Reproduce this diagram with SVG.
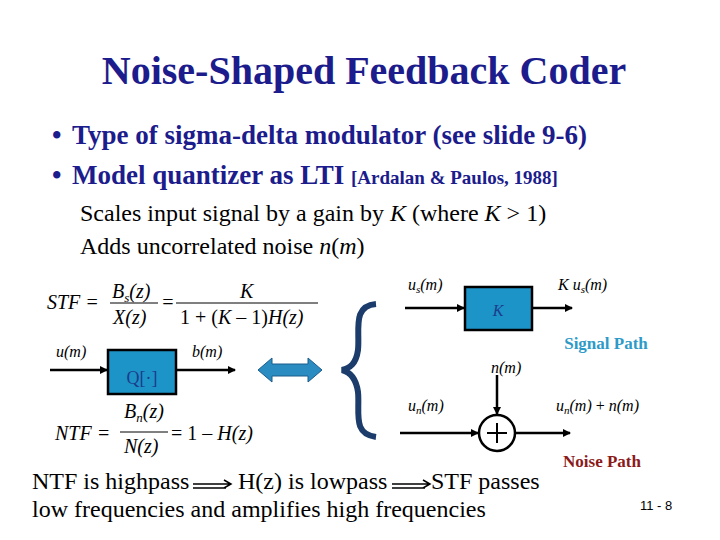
<svg xmlns="http://www.w3.org/2000/svg" width="720" height="540" viewBox="0 0 720 540">
<style>
text{font-family:"Liberation Serif",serif;fill:#000}
.t{font-size:40px;font-weight:bold;fill:#1c1c8c}
.b{font-size:27px;font-weight:bold;fill:#1c1c8c}
.s{font-size:24px}
.m{font-size:16px;font-style:italic}
.f{font-size:20px;font-style:italic}
.box{fill:#1d94c8;stroke:#000;stroke-width:2.5}
.ln{stroke:#000;stroke-width:2.5;fill:none}
</style>
<defs><marker id="a" markerWidth="8" markerHeight="8" refX="7" refY="4" orient="auto" markerUnits="userSpaceOnUse"><path d="M0,0L8,4L0,8z" fill="#000"/></marker></defs>
<rect width="720" height="540" fill="#fff"/>
<text class="t" x="364" y="84" text-anchor="middle">Noise-Shaped Feedback Coder</text>
<text class="b" x="52" y="144">•</text><text class="b" x="72" y="144">Type of sigma-delta modulator (see slide 9-6)</text>
<text class="b" x="52" y="184">•</text><text class="b" x="72" y="184">Model quantizer as LTI <tspan font-size="19">[Ardalan &amp; Paulos, 1988]</tspan></text>
<text class="s" x="80" y="221">Scales input signal by a gain by <tspan font-style="italic">K</tspan> (where <tspan font-style="italic">K</tspan> &gt; 1)</text>
<text class="s" x="80" y="254">Adds uncorrelated noise <tspan font-style="italic">n</tspan>(<tspan font-style="italic">m</tspan>)</text>
<g id="stf"><text class="f" x="47" y="309">STF =</text><text class="f" x="112" y="298">B<tspan font-size="13" dy="4">s</tspan><tspan dy="-4">(z)</tspan></text><line x1="110" y1="303" x2="158" y2="303" stroke="#000"/><text class="f" x="113" y="324">X(z)</text><text class="f" x="161" y="309">=</text><text class="f" x="240" y="298">K</text><line x1="176" y1="303" x2="318" y2="303" stroke="#000"/><text class="f" x="180" y="324"><tspan font-style="normal">1 + (</tspan>K <tspan font-style="normal">– 1)</tspan>H(z)</text></g>
<g id="ntf"><text class="f" x="55" y="440">NTF =</text><text class="f" x="124" y="418">B<tspan font-size="13" dy="4">n</tspan><tspan dy="-4">(z)</tspan></text><line x1="120" y1="432" x2="168" y2="432" stroke="#000"/><text class="f" x="124" y="453">N(z)</text><text class="f" x="171" y="440"><tspan font-style="normal">= 1 – </tspan>H(z)</text></g>
<g id="conn">
<line class="ln" x1="50" y1="370" x2="107" y2="370" marker-end="url(#a)"/>
<line class="ln" x1="176" y1="370" x2="235" y2="370" marker-end="url(#a)"/>
<line class="ln" x1="405" y1="308" x2="464" y2="308" marker-end="url(#a)"/>
<line class="ln" x1="532" y1="308" x2="572" y2="308" marker-end="url(#a)"/>
<line class="ln" x1="400" y1="433" x2="478" y2="433" marker-end="url(#a)"/>
<line class="ln" x1="515" y1="433" x2="570" y2="433" marker-end="url(#a)"/>
<line class="ln" x1="497" y1="375" x2="497" y2="414" marker-end="url(#a)"/>
</g>
<g id="q"><rect class="box" x="108" y="350" width="68" height="44"/><text x="142" y="384" font-size="18" text-anchor="middle" style="fill:#1c3c8c">Q[·]</text></g>
<text class="m" x="56" y="357">u(m)</text><text class="m" x="192" y="357">b(m)</text>
<g id="dbl"><path d="M258,370L272,358V364H308V358L322,370L308,382V376H272V382Z" fill="#2a8cc0" stroke="#1c5c8c"/></g>
<g id="brace"><path d="M376,304C352,306 360,330 358,350C356,364 350,368 342,370C350,372 356,378 358,392C360,412 352,434 376,437" fill="none" stroke="#1c3c6c" stroke-width="6"/></g>
<g id="k"><rect class="box" x="465" y="287" width="67" height="43"/><text class="m" x="498" y="316" text-anchor="middle" style="fill:#1c3c8c">K</text></g>
<text class="m" x="408" y="290">u<tspan font-size="11" dy="3">s</tspan><tspan dy="-3">(m)</tspan></text>
<text class="m" x="558" y="290">K u<tspan font-size="11" dy="3">s</tspan><tspan dy="-3">(m)</tspan></text>
<text x="606" y="349" font-size="17" font-weight="bold" style="fill:#2e9ac8" text-anchor="middle">Signal Path</text>
<text class="m" x="491" y="373">n(m)</text>
<text class="m" x="408" y="411">u<tspan font-size="11" dy="3">n</tspan><tspan dy="-3">(m)</tspan></text>
<text class="m" x="556" y="411">u<tspan font-size="11" dy="3">n</tspan><tspan dy="-3">(m)</tspan><tspan font-style="normal"> + </tspan>n(m)</text>
<g id="sum"><circle cx="497" cy="433" r="18" fill="#fff" stroke="#000" stroke-width="2.5"/><path d="M487,433H507M497,423V443" stroke="#000" stroke-width="2"/></g>
<text x="602" y="467" font-size="17" font-weight="bold" style="fill:#8b1a1a" text-anchor="middle">Noise Path</text>
<text class="s" x="32" y="489">NTF is highpass</text>
<text class="s" x="238" y="489">H(z) is lowpass</text>
<text class="s" x="431" y="489">STF passes</text>
<text class="s" x="32" y="517">low frequencies and amplifies high frequencies</text>
<g stroke="#000" stroke-width="1.5" fill="none"><path d="M193,484H230M224,480L231,484L224,488M193,488H226"/><path d="M392,484H429M423,480L430,484L423,488M392,488H425"/></g>
<text x="640" y="510" font-size="13" style="font-family:'Liberation Sans',sans-serif">11 - 8</text>
</svg>
